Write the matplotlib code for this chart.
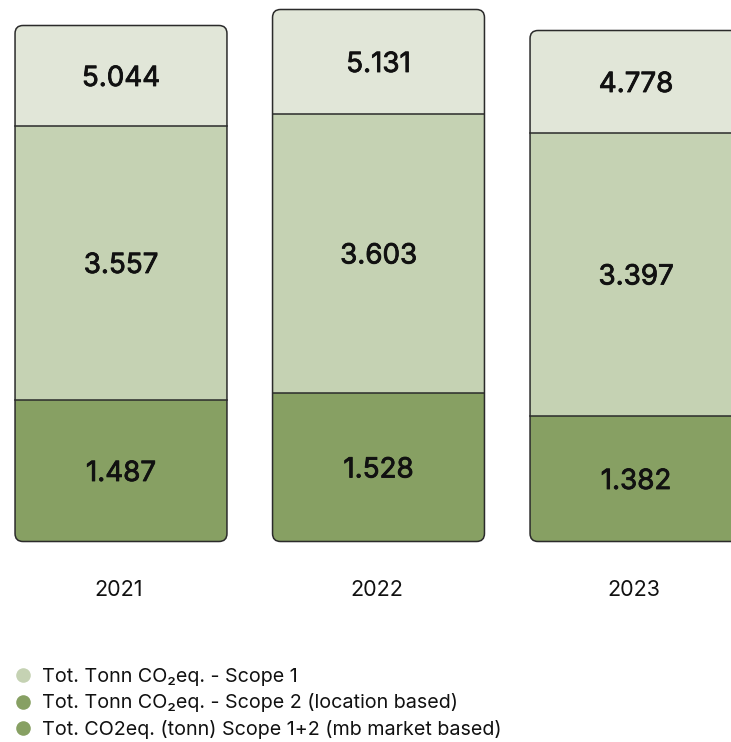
import numpy as np
import matplotlib
matplotlib.use("Agg")
import matplotlib.pyplot as plt
import matplotlib.patheffects as pe
from matplotlib.patches import FancyBboxPatch
from matplotlib.lines import Line2D

plt.rcParams["font.family"] = ["Inter", "DejaVu Sans"]

years = ["2021", "2022", "2023"]

# printed values (tonn CO2eq, Norwegian thousand separator)
mb_labels = ["1.487", "1.528", "1.382"]
scope2_labels = ["3.557", "3.603", "3.397"]
scope1_labels = ["5.044", "5.131", "4.778"]

# segment lengths as drawn in the source graphic (not to scale with the labels)
mb_len = [1.42, 1.49, 1.26]
scope2_len = [2.74, 2.79, 2.83]
scope1_len = [1.00, 1.04, 1.02]

legend_labels = [
    "Tot. Tonn CO\u2082eq. - Scope 1",
    "Tot. Tonn CO\u2082eq. - Scope 2 (location based)",
    "Tot. CO2eq. (tonn) Scope 1+2 (mb market based)",
]

C_TOP = "#e1e6d8"
C_MID = "#c5d2b3"
C_LOW = "#87a063"
EDGE = "#2b2b2b"
INK = "#111111"

W_PX, H_PX = 731, 742
fig = plt.figure(figsize=(W_PX / 100, H_PX / 100), dpi=100)
ax = fig.add_axes([0, 0, 1, 1])
ax.set_xlim(-0.4699, 2.3689)
ax.set_ylim(-2.005, 5.415)
ax.axis("off")

x = np.arange(len(years))
width = 0.823
mb = np.array(mb_len)
s2 = np.array(scope2_len)
s1 = np.array(scope1_len)

b1 = ax.bar(x, mb, width, color=C_LOW, edgecolor="none")
b2 = ax.bar(x, s2, width, bottom=mb, color=C_MID, edgecolor="none")
b3 = ax.bar(x, s1, width, bottom=mb + s2, color=C_TOP, edgecolor="none")

# rounded outline per column, also used as clip path
xpx = W_PX / (2.3689 + 0.4699)
ypx = H_PX / (5.415 + 2.005)
r_px = 8
bold_ish = [pe.withStroke(linewidth=0.6, foreground=INK)]
for i in range(len(years)):
    total = mb[i] + s2[i] + s1[i]
    box = FancyBboxPatch((x[i] - width / 2, 0), width, total,
                         boxstyle=f"round,pad=0,rounding_size={r_px / xpx}",
                         mutation_aspect=xpx / ypx,
                         facecolor="none", edgecolor=EDGE, linewidth=1.1, zorder=4)
    ax.add_patch(box)
    for bars in (b1, b2, b3):
        bars[i].set_clip_path(box)
    for yy in (mb[i], mb[i] + s2[i]):
        ax.plot([x[i] - width / 2, x[i] + width / 2], [yy, yy],
                color=EDGE, linewidth=1.1, zorder=3)

    for lab, y0, h in ((mb_labels[i], 0, mb[i]),
                       (scope2_labels[i], mb[i], s2[i]),
                       (scope1_labels[i], mb[i] + s2[i], s1[i])):
        ax.text(x[i], y0 + h / 2 - 0.035, lab, ha="center", va="center",
                fontsize=20, color=INK, zorder=5, path_effects=bold_ish)

    ax.text(x[i] - 0.008, -0.49, years[i], ha="center", va="center",
            fontsize=15.5, color=INK)

handles = [
    Line2D([], [], marker="o", linestyle="none", markersize=10.5,
           markerfacecolor=c, markeredgecolor="none")
    for c in (C_MID, C_LOW, C_LOW)
]
fig.legend(handles, legend_labels, loc="upper left",
           bbox_to_anchor=(0.0183, 0.1000), frameon=False, fontsize=14.2,
           handlelength=1.0, handletextpad=0.45, labelspacing=0.39,
           borderpad=0, borderaxespad=0, labelcolor=INK)

fig.savefig("out.png", dpi=100)
